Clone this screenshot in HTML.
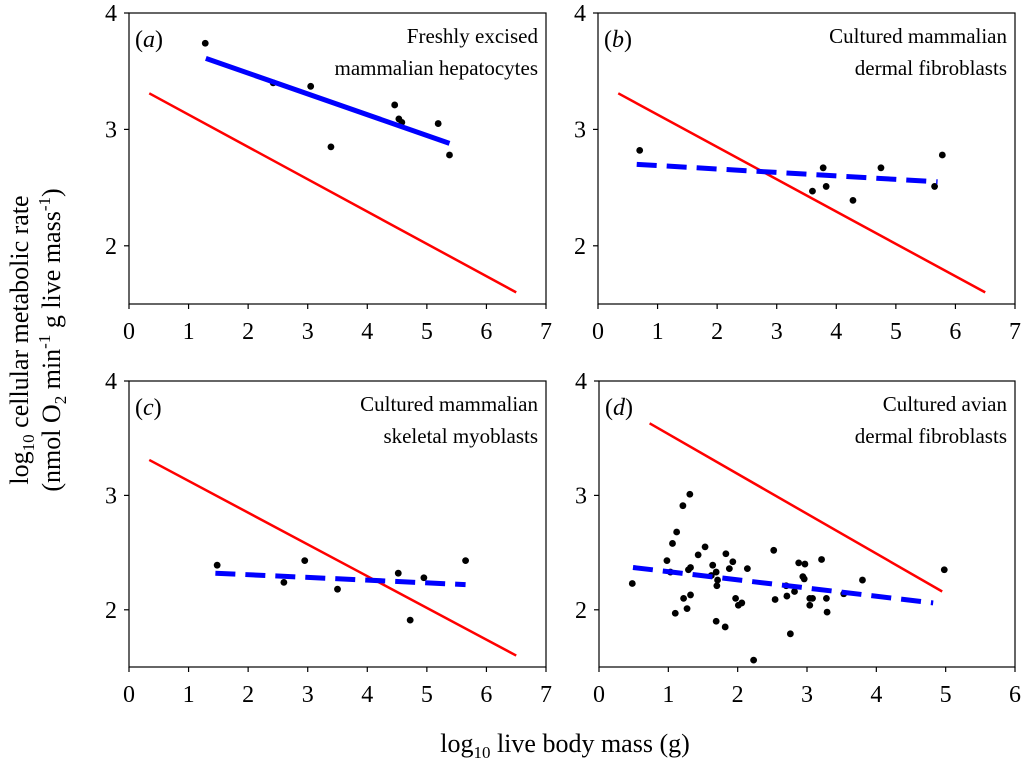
<!DOCTYPE html>
<html><head><meta charset="utf-8"><style>
body{margin:0;background:#fff;font-family:'Liberation Serif','Times New Roman','DejaVu Serif',serif}
svg{display:block}
svg text{font-family:'Liberation Serif','Times New Roman','DejaVu Serif',serif}
</style></head><body>
<svg id="fig" width="1024" height="770" viewBox="0 0 1024 770">
<text transform="translate(28,340) rotate(-90)" text-anchor="middle" font-size="26">log<tspan font-size="17" dy="6">10</tspan><tspan dy="-6"> cellular metabolic rate</tspan></text>
<text transform="translate(60,340) rotate(-90)" text-anchor="middle" font-size="26">(nmol O<tspan font-size="17" dy="6">2</tspan><tspan dy="-6"> min</tspan><tspan font-size="17" dy="-10">-1</tspan><tspan dy="10"> g live mass</tspan><tspan font-size="17" dy="-10">-1</tspan><tspan dy="10">)</tspan></text>
<text x="565" y="752" text-anchor="middle" font-size="26">log<tspan font-size="17" dy="6">10</tspan><tspan dy="-6"> live body mass (g)</tspan></text>
</svg>
<script>
// Panel a
const aPointsX=[1.28,2.42,3.05,3.39,4.46,4.53,4.58,5.19,5.38];
const aPointsY=[3.74,3.40,3.37,2.85,3.21,3.09,3.06,3.05,2.78];
const aFitX=[1.29,5.38], aFitY=[3.61,2.88];
// Panel b
const bPointsX=[0.7,3.6,3.78,3.83,4.28,4.75,5.65,5.78];
const bPointsY=[2.82,2.47,2.67,2.51,2.39,2.67,2.51,2.78];
const bFitX=[0.65,5.7], bFitY=[2.70,2.55];
// Panel c
const cPointsX=[1.48,2.6,2.95,3.5,4.52,4.72,4.95,5.65];
const cPointsY=[2.39,2.24,2.43,2.18,2.32,1.91,2.28,2.43];
const cFitX=[1.45,5.65], cFitY=[2.32,2.22];
// Panel d
const dPointsX=[0.48,0.98,1.06,1.12,1.21,1.31,1.03,1.29,1.32,1.22,1.32,1.10,1.27,1.43,1.53,1.64,1.69,1.62,1.71,1.70,1.83,1.93,1.88,1.69,1.82,2.14,1.97,2.01,2.06,2.23,2.52,2.54,2.70,2.71,2.82,2.76,2.88,2.97,2.94,2.96,3.04,3.08,3.04,3.21,3.28,3.29,3.53,3.80,4.98];
const dPointsY=[2.23,2.43,2.58,2.68,2.91,3.01,2.33,2.35,2.37,2.10,2.13,1.97,2.01,2.48,2.55,2.39,2.33,2.30,2.26,2.21,2.49,2.42,2.36,1.90,1.85,2.36,2.10,2.04,2.06,1.56,2.52,2.09,2.21,2.12,2.16,1.79,2.41,2.40,2.29,2.27,2.10,2.10,2.04,2.44,2.10,1.98,2.14,2.26,2.35];
const dFitX=[0.49,4.82], dFitY=[2.37,2.06];
// Reference (red) lines
const refX=[0.34,6.5], refY=[3.31,1.60];
const dRefX=[0.73,4.95], dRefY=[3.63,2.16];
const xTicks7=[0,1,2,3,4,5,6,7], xTicks6=[0,1,2,3,4,5,6];
const yTicks=[2,3,4];

const NS="http://www.w3.org/2000/svg";
const svg=document.getElementById('fig');
function mk(tag,attrs,parent){const e=document.createElementNS(NS,tag);for(const k in attrs)e.setAttribute(k,attrs[k]);(parent||svg).appendChild(e);return e;}

const panels=[
 {id:'a',L:129,R:546,T:13,B:304,xmax:7,xt:xTicks7,px:aPointsX,py:aPointsY,fx:aFitX,fy:aFitY,dash:false,rx:refX,ry:refY,t1:'Freshly excised',t2:'mammalian hepatocytes'},
 {id:'b',L:598,R:1015,T:13,B:304,xmax:7,xt:xTicks7,px:bPointsX,py:bPointsY,fx:bFitX,fy:bFitY,dash:true,rx:refX,ry:refY,t1:'Cultured mammalian',t2:'dermal fibroblasts'},
 {id:'c',L:129,R:546,T:381,B:667,xmax:7,xt:xTicks7,px:cPointsX,py:cPointsY,fx:cFitX,fy:cFitY,dash:true,rx:refX,ry:refY,t1:'Cultured mammalian',t2:'skeletal myoblasts'},
 {id:'d',L:599,R:1015,T:381,B:667,xmax:6,xt:xTicks6,px:dPointsX,py:dPointsY,fx:dFitX,fy:dFitY,dash:true,rx:dRefX,ry:dRefY,t1:'Cultured avian',t2:'dermal fibroblasts'}
];
panels.forEach(p=>{
 const X=v=>p.L+(v/p.xmax)*(p.R-p.L);
 const Y=v=>p.B-((v-1.5)/2.5)*(p.B-p.T);
 const g=mk('g',{});
 
 
 const box=mk('rect',{x:p.L,y:p.T,width:p.R-p.L,height:p.B-p.T,fill:'none',stroke:'#000','stroke-width':1.2},g);
 
 
 p.xt.forEach(t=>{
  const x=X(t);
  mk('line',{x1:x,x2:x,y1:p.B,y2:p.B+5,stroke:'#000','stroke-width':1.2},g);
  const tx=mk('text',{x:x,y:p.B+35,'text-anchor':'middle','font-size':24},g);
  tx.textContent=t;
  
  
 });
 yTicks.forEach(t=>{
  const y=Y(t);
  mk('line',{x1:p.L-5,x2:p.L,y1:y,y2:y,stroke:'#000','stroke-width':1.2},g);
  const tx=mk('text',{x:p.L-12,y:y+8,'text-anchor':'end','font-size':24},g);
  tx.textContent=t;
  
  
 });
 const red=mk('line',{x1:X(p.rx[0]),y1:Y(p.ry[0]),x2:X(p.rx[1]),y2:Y(p.ry[1]),stroke:'#ff0000','stroke-width':2.5},g);
 
 
 p.px.forEach((v,i)=>{
  const c=mk('circle',{cx:X(v),cy:Y(p.py[i]),r:3.4,fill:'#000'},g);
  
  
 });
 const fit=mk('line',{x1:X(p.fx[0]),y1:Y(p.fy[0]),x2:X(p.fx[1]),y2:Y(p.fy[1]),stroke:'#0000ff','stroke-width':5},g);
 if(p.dash) fit.setAttribute('stroke-dasharray','20 10');
 
 
 const lab=mk('text',{x:p.L+6,y:p.T+34,'font-size':24},g);
 lab.innerHTML='(<tspan font-style="italic">'+p.id+'</tspan>)';
 
 
 const t1=mk('text',{x:p.R-8,y:p.T+30,'text-anchor':'end','font-size':21},g);
 t1.textContent=p.t1;
 
 
 const t2=mk('text',{x:p.R-8,y:p.T+62,'text-anchor':'end','font-size':21},g);
 t2.textContent=p.t2;
 
 
});
</script>
</body></html>
